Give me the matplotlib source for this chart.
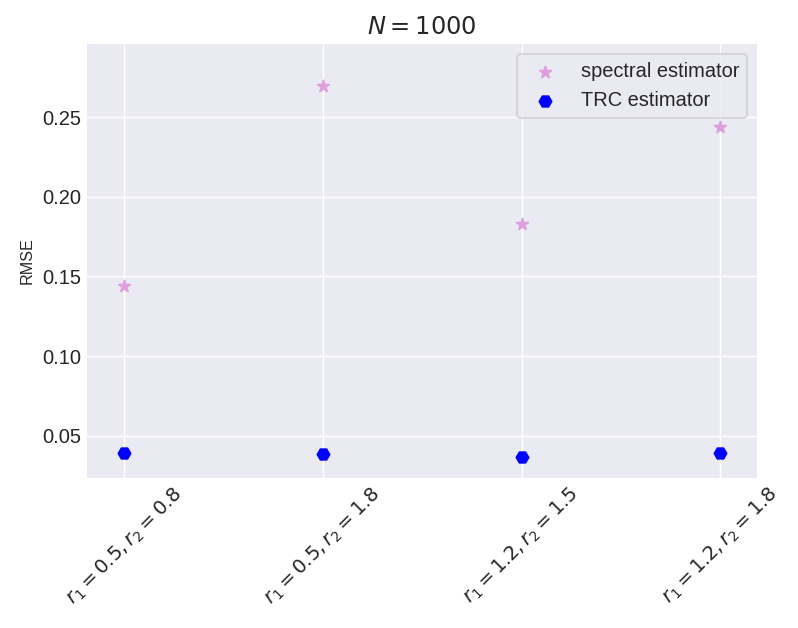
import numpy as np
import matplotlib
matplotlib.use('Agg')
from matplotlib import pyplot as plt

configs = [r'$r_1 = 0.5, r_2 = 0.8$', r'$r_1 = 0.5, r_2 = 1.8$',
           r'$r_1 = 1.2, r_2 = 1.5$', r'$r_1 = 1.2, r_2 = 1.8$']
spectral_rmse = [0.144, 0.2694, 0.183, 0.2437]
trc_rmse = [0.0393, 0.0389, 0.0369, 0.0393]


def main():
    plt.style.use('seaborn-v0_8-darkgrid')
    plt.rcParams['font.family'] = ['Liberation Sans', 'DejaVu Sans']
    plt.rcParams['font.size'] = 10

    fig = plt.figure(figsize=(6.384, 5.024), dpi=125)
    ax = fig.add_axes([0.109, 0.239, 0.840, 0.691])

    x = np.arange(len(configs))
    ax.scatter(x, spectral_rmse, marker='*', s=50, color='plum',
               label='spectral estimator')
    ax.scatter(x, trc_rmse, marker='H', s=50, color='blue',
               label='TRC estimator')

    ax.set_xticks(x)
    ax.set_xticklabels(configs, rotation=45, fontsize=11.3)
    ax.tick_params(axis='y', labelsize=11.6)
    ax.set_xlim(-0.186, 3.186)
    ax.set_ylim(0.0237, 0.2958)
    ax.set_ylabel('RMSE', fontsize=9.3)
    ax.set_title(r'$N = 1000$', fontsize=13.9)
    ax.legend(loc='upper right', frameon=True, fontsize=11.5)

    fig.savefig('out.png', dpi=125)


if __name__ == "__main__":
    main()
